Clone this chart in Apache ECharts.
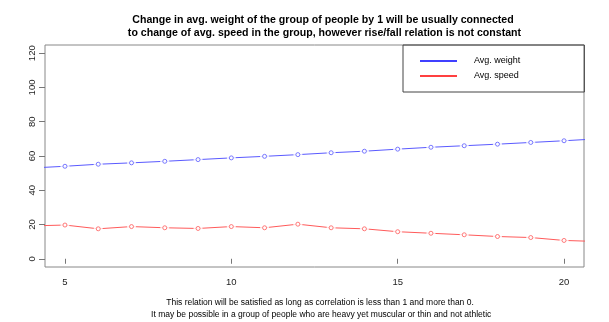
<!DOCTYPE html>
<html>
<head>
<meta charset="utf-8">
<script src="https://cdn.jsdelivr.net/npm/echarts@6/dist/echarts.min.js"></script>
<style>html,body{margin:0;padding:0;background:#fff;}#c{width:609px;height:322px;}</style>
</head>
<body>
<div id="c"></div>
<script>
// x values (4 and 21 lie outside the visible range, lines run off the plot edge)
var xValues = [4, 5, 6, 7, 8, 9, 10, 11, 12, 13, 14, 15, 16, 17, 18, 19, 20, 21];
var avgWeight = [53, 54, 55.2, 56, 56.9, 57.9, 58.9, 59.8, 60.8, 61.9, 62.8, 64, 65.1, 66, 66.9, 67.9, 68.9, 70];
var avgSpeed = [19.2, 19.7, 17.5, 18.8, 18.1, 17.7, 18.8, 18.1, 20.2, 18.1, 17.5, 15.8, 14.9, 14.0, 13.0, 12.4, 10.7, 10.1];
var xTicks = [5, 10, 15, 20];
var yTicks = [0, 20, 40, 60, 80, 100, 120];
var seriesNames = ['Avg. weight', 'Avg. speed'];
var titleText = 'Change in avg. weight of the group of people by 1 will be usually connected\n to change of avg. speed in the group, however rise/fall relation is not constant';
var subText = 'This relation will be satisfied as long as correlation is less than 1 and more than 0.\n It may be possible in a group of people who are heavy yet muscular or thin and not athletic';

function pairs(ys) { return xValues.map(function (x, i) { return [x, ys[i]]; }); }

var lineCol = ['#5a5aff', '#ff5a5a'];
var legendCol = ['#0000ff', '#ff0000'];
var font = 'Liberation Sans, Arial, sans-serif';

var series = [];
[avgWeight, avgSpeed].forEach(function (ys, k) {
  series.push({
    name: seriesNames[k], type: 'line', data: pairs(ys), showSymbol: false, symbol: 'none',
    lineStyle: { color: lineCol[k], width: 1 }, itemStyle: { color: lineCol[k] },
    clip: true, z: 2, animation: false, silent: true
  });
  series.push({
    type: 'scatter', data: pairs(ys), symbol: 'circle', symbolSize: 9,
    itemStyle: { color: '#ffffff' }, clip: true, z: 3, animation: false, silent: true
  });
  series.push({
    type: 'scatter', data: pairs(ys), symbol: 'circle', symbolSize: 4,
    itemStyle: { color: '#ffffff', borderColor: lineCol[k], borderWidth: 1 }, clip: true, z: 4, animation: false, silent: true
  });
});

var chart = echarts.init(document.getElementById('c'), null, { renderer: 'canvas' });
chart.setOption({
  animation: false,
  backgroundColor: '#ffffff',
  textStyle: { fontFamily: font },
  title: [
    { text: titleText, left: 318, top: 9, textAlign: 'center',
      textStyle: { fontSize: 10.6, fontWeight: 'bold', color: '#000', lineHeight: 13, fontFamily: font } },
    { text: subText, left: 315, top: 292, textAlign: 'center',
      textStyle: { fontSize: 8.5, fontWeight: 'normal', color: '#000', lineHeight: 12, fontFamily: font } }
  ],
  legend: {
    orient: 'vertical', left: 403, top: 45,
    padding: [9, 64, 9, 17],
    borderColor: '#444', borderWidth: 1,
    itemWidth: 37, itemHeight: 1.5, itemGap: 1,
    textStyle: { fontSize: 9, color: '#000', lineHeight: 14, padding: [0, 0, 0, 12], fontFamily: font },
    data: seriesNames.map(function (n, k) {
      return { name: n, icon: 'rect', itemStyle: { color: legendCol[k] } };
    })
  },
  grid: { left: 45, right: 25, top: 45, bottom: 55, show: true, borderColor: '#888', borderWidth: 1, containLabel: false },
  xAxis: {
    type: 'value', min: 4.4, max: 20.6,
    axisLine: { show: false },
    axisTick: { show: true, customValues: xTicks, length: 5, lineStyle: { color: '#777' } },
    axisLabel: { customValues: xTicks, fontSize: 9.5, color: '#222', margin: 10, fontFamily: font },
    splitLine: { show: false }
  },
  yAxis: {
    type: 'value', min: -4.8, max: 124.8,
    axisLine: { show: false },
    axisTick: { show: true, customValues: yTicks, length: 6, lineStyle: { color: '#777' } },
    axisLabel: { customValues: yTicks, fontSize: 9.5, color: '#222', margin: 8, rotate: 90, fontFamily: font },
    splitLine: { show: false }
  },
  series: series
});
</script>
</body>
</html>
